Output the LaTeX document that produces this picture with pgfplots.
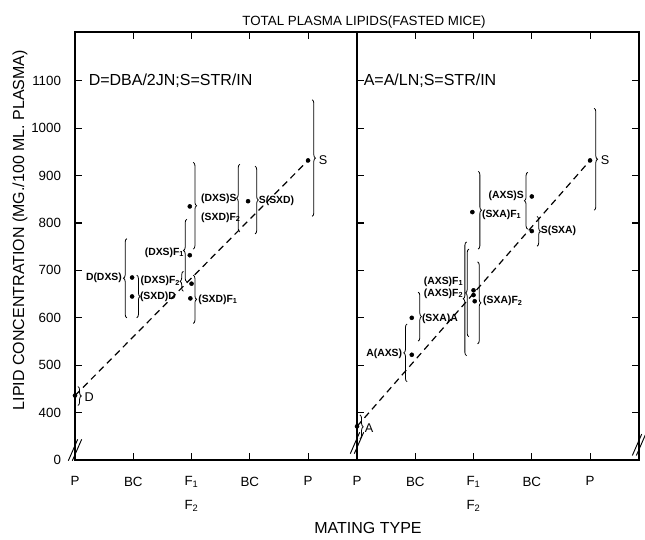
\documentclass[border=0pt]{standalone}
\usepackage{fontspec}
\setmainfont{Liberation Sans}
\usepackage{pgfplots}
\pgfplotsset{compat=1.18}
\usetikzlibrary{decorations.pathreplacing,calc}
\pgfplotsset{
  panel/.style={
    scale only axis, width=211.5pt, height=321pt,
    xmin=0, xmax=4.84, ymin=300, ymax=1203,
    xtick={0,1,2,3,4},
    xticklabels={P,BC,{F\textsubscript{1}\\F\textsubscript{2}},BC,P},
    xticklabel style={align=center, font=\fontsize{10}{18}\selectfont, yshift=-9pt},
    ytick={300,400,500,600,700,800,900,1000,1100},
    yticklabel style={font=\fontsize{10}{12}\selectfont, xshift=-7pt},
    tick align=inside,
    major tick length=5pt,
    axis line style={line width=0.9pt},
    every tick/.style={black, line width=0.8pt},
    clip=false,
  },
  dashline/.style={black, line width=0.9pt, dash pattern=on 5pt off 3.5pt},
  dots/.style={only marks, mark=*, mark size=1.5pt, black},
}
\tikzset{
  brc/.style={decorate, decoration={brace, amplitude=2.5pt}, line width=0.6pt},
  lab/.style={font=\bfseries\fontsize{7.8}{8}\selectfont, inner sep=0.5pt},
  big/.style={font=\fontsize{9.5}{10}\selectfont, inner sep=0.5pt},
  note/.style={font=\fontsize{12}{13}\selectfont, inner sep=0.5pt},
}
\newcommand{\rb}[3]{\draw[brc] (axis cs:#1,#2) -- (axis cs:#1,#3);}
\newcommand{\lb}[3]{\draw[brc] (axis cs:#1,#3) -- (axis cs:#1,#2);}
\newcommand{\brk}[2]{\draw[line width=0.7pt] ($(axis cs:#1,#2)+(-5pt,-8pt)$) -- ($(axis cs:#1,#2)+(2pt,8pt)$) ($(axis cs:#1,#2)+(-2pt,-8pt)$) -- ($(axis cs:#1,#2)+(5pt,8pt)$);}
\begin{document}
\begin{tikzpicture}
\begin{axis}[panel, name=L, ytick pos=left,
  yticklabels={0,400,500,600,700,800,900,1000,1100},
  title={TOTAL PLASMA LIPIDS(FASTED MICE)},
  every axis title/.style={at={(axis description cs:1.025,1.023)}, anchor=center, font=\fontsize{10}{12}\selectfont},
  xlabel={MATING TYPE},
  xlabel style={at={(axis description cs:1.039,-0.159)}, anchor=center, font=\fontsize{12}{14}\selectfont},
  ylabel={LIPID CONCENTRATION (MG./100 ML. PLASMA)},
  ylabel style={at={(axis description cs:-0.195,0.537)}, anchor=center, font=\fontsize{12}{14}\selectfont},
]
\addplot[dashline] coordinates {(0,436) (4,932)};
\addplot[dots] coordinates {(0,436) (0.98,685) (0.98,645) (1.97,732) (2.0,672) (1.98,641) (1.97,835) (2.97,846) (4,932)};
\rb{0.05}{455}{415}
\lb{0.89}{767}{600}
\rb{1.06}{690}{600}
\lb{1.92}{808}{676}
\lb{1.86}{698}{656}
\rb{2.03}{690}{588}
\rb{2.03}{928}{745}
\lb{2.83}{924}{781}
\rb{3.09}{920}{777}
\rb{4.07}{1060}{814}
\node[big,anchor=west] at (axis cs:0.15,432) {D};
\node[lab,anchor=east] at (axis cs:0.82,685) {D(DXS)};
\node[lab,anchor=west] at (axis cs:1.10,645) {(SXD)D};
\node[lab,anchor=east] at (axis cs:1.89,737) {(DXS)F\textsubscript{1}};
\node[lab,anchor=east] at (axis cs:1.82,677) {(DXS)F\textsubscript{2}};
\node[lab,anchor=west] at (axis cs:2.10,638) {(SXD)F\textsubscript{1}};
\node[lab,anchor=west] at (axis cs:2.15,852) {(DXS)S};
\node[lab,anchor=west] at (axis cs:2.15,812) {(SXD)F\textsubscript{2}};
\node[lab,anchor=west] at (axis cs:3.14,846) {S(SXD)};
\node[big,anchor=west] at (axis cs:4.17,932) {S};
\node[note,anchor=west] at (axis cs:0.22,1100) {D=DBA/2JN;S=STR/IN};
\brk{0}{321}
\end{axis}
\begin{axis}[panel, name=R, at={(L.south east)}, anchor=south west,
  yticklabels=\empty]
\addplot[dashline] coordinates {(0,371) (4,932)};
\addplot[dots] coordinates {(0,371) (0.94,522) (0.94,600) (2.0,658) (2.0,648) (2.02,635) (1.98,823) (3.0,856) (3.0,783) (4,932)};
\rb{0.05}{395}{345}
\lb{0.86}{587}{465}
\rb{1.05}{654}{551}
\lb{1.88}{760}{520}
\lb{1.92}{745}{560}
\rb{2.07}{718}{545}
\rb{2.08}{909}{745}
\lb{2.93}{907}{787}
\rb{3.09}{814}{751}
\rb{4.07}{1042}{827}
\node[big,anchor=west] at (axis cs:0.12,368) {A};
\node[lab,anchor=east] at (axis cs:0.79,525) {A(AXS)};
\node[lab,anchor=west] at (axis cs:1.10,597) {(SXA)A};
\node[lab,anchor=east] at (axis cs:1.84,676) {(AXS)F\textsubscript{1}};
\node[lab,anchor=east] at (axis cs:1.84,651) {(AXS)F\textsubscript{2}};
\node[lab,anchor=west] at (axis cs:2.15,635) {(SXA)F\textsubscript{2}};
\node[lab,anchor=west] at (axis cs:2.13,818) {(SXA)F\textsubscript{1}};
\node[lab,anchor=east] at (axis cs:2.88,858) {(AXS)S};
\node[lab,anchor=west] at (axis cs:3.14,783) {S(SXA)};
\node[big,anchor=west] at (axis cs:4.17,932) {S};
\node[note,anchor=west] at (axis cs:0.10,1100) {A=A/LN;S=STR/IN};
\brk{0}{336}
\brk{4.84}{332}
\end{axis}
\pgfresetboundingbox
\path ($(L.south west)+(-56.25pt,-59.25pt)$) rectangle ($(L.south west)+(427.5pt,345pt)$);
\end{tikzpicture}
\end{document}
